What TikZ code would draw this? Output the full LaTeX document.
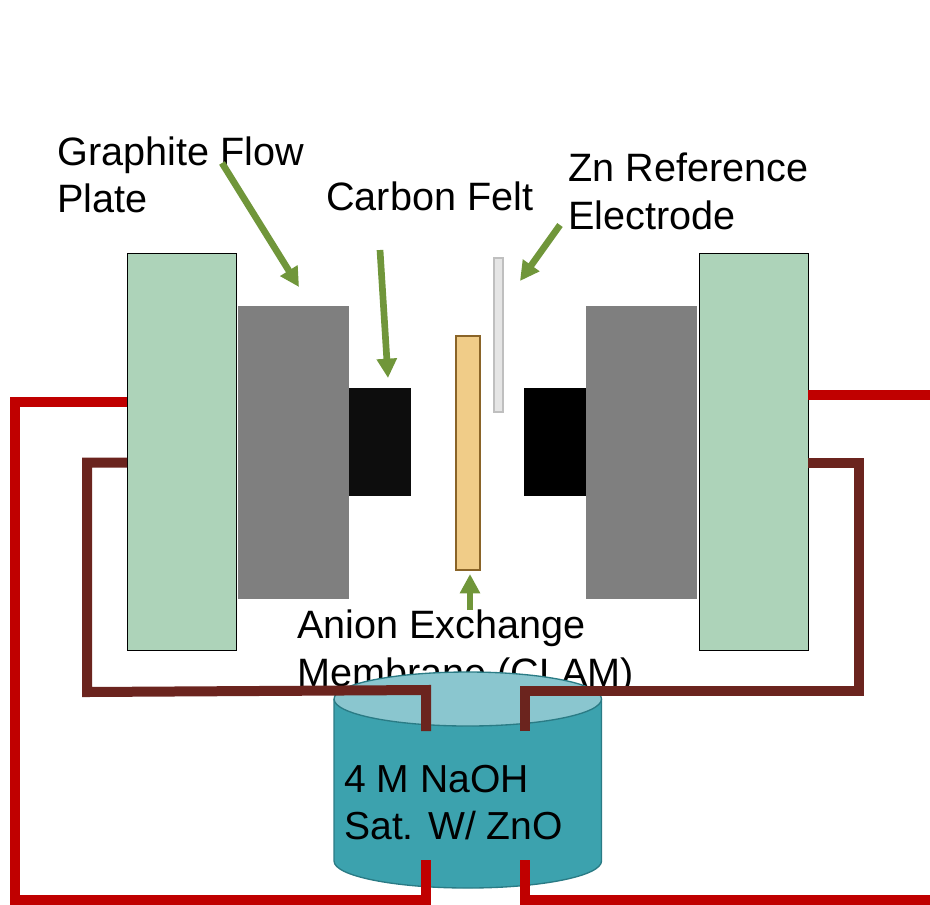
\documentclass[tikz,border=0pt]{standalone}
\usepackage{fontspec}
\setmainfont{Liberation Sans}
\usetikzlibrary{arrows.meta}
\definecolor{PlateClr}{RGB}{173,211,185}
\definecolor{GraphiteClr}{RGB}{127,127,127}
\definecolor{MembraneClr}{RGB}{240,204,136}
\definecolor{MembraneEdge}{RGB}{138,100,40}
\definecolor{RefClr}{RGB}{229,229,229}
\definecolor{RefEdge}{RGB}{191,191,191}
\definecolor{TankClr}{RGB}{60,162,174}
\definecolor{TankEdge}{RGB}{42,123,133}
\definecolor{TankTop}{RGB}{138,198,207}
\definecolor{ArrowClr}{RGB}{112,150,58}
\definecolor{RedClr}{RGB}{192,0,0}
\definecolor{BrownClr}{RGB}{107,36,30}
\tikzset{
  block/.style={inner sep=0pt,outer sep=0pt},
  plate/.style={block,draw=black,line width=.75pt,fill=PlateClr,minimum width=82pt,minimum height=298pt},
  graphite/.style={block,fill=GraphiteClr,minimum width=83.5pt,minimum height=220pt},
  felt/.style={block,minimum width=46.5pt,minimum height=81pt},
  label/.style={inner sep=0pt,anchor=base west,align=left,font=\fontsize{29.7}{35.6}\selectfont},
  tanklabel/.style={label,font=\fontsize{29.3}{35.6}\selectfont},
  pointer/.style={draw=ArrowClr,line width=5pt,-{Triangle[length=14.5pt,width=14.5pt]}},
  redwire/.style={draw=RedClr,line width=7.5pt},
  brownwire/.style={draw=BrownClr,line width=7.5pt}
}

\begin{document}
\begin{tikzpicture}[x=.75pt,y=-.75pt]
\useasboundingbox (0,0) rectangle (930,904);

% cell
\node[graphite] (graphiteL) at (293.2,452.5) {};
\node[graphite] (graphiteR) at (641.2,452.5) {};
\node[felt,fill=black!95] (feltL) at (379.7,442) {};
\node[felt,fill=black] (feltR) at (555,442) {};
\node[block,draw=MembraneEdge,line width=1.5pt,fill=MembraneClr,minimum width=18pt,minimum height=176pt] (membrane) at (467.7,453) {};
\node[block,draw=RefEdge,line width=1.5pt,fill=RefClr,minimum width=6.5pt,minimum height=115.5pt] (refelec) at (498.2,335) {};
\node[plate] (plateL) at (181.8,452) {};
\node[plate] (plateR) at (753.8,452) {};

% labels
\node[label] (lblplate) at (57,165) {Graphite Flow};
\node[label] at (57,212) {Plate};
\node[label] (lblfelt) at (326,210) {Carbon Felt};
\node[label] (lblref) at (568,181) {Zn Reference};
\node[label] at (568,229) {Electrode};
\node[label] (lblmem) at (297,638) {Anion Exchange};
\node[label] at (297,686) {Membrane (CLAM)};

% tank
\coordinate (tankL) at (334,699);
\coordinate (tankR) at (601.5,699);
\draw[TankEdge,line width=1pt,fill=TankClr] (tankL) -- (334,861) arc[start angle=180,end angle=360,x radius=133.75,y radius=-27] -- (tankR);
\draw[TankEdge,line width=1pt,fill=TankTop] (467.75,699) ellipse[x radius=133.75,y radius=27];
\node[tanklabel] (lbltank) at (344,792) {4 M NaOH};
\node[tanklabel] at (344,839) {Sat. W/ ZnO};

% pointers
\coordinate (pA) at (222,163);
\coordinate (pAend) at (299,287);
\coordinate (pB) at (380,250);
\coordinate (pBend) at (388,378);
\coordinate (pC) at (560,225);
\coordinate (pCend) at (520,281);
\coordinate (pD) at (470,610);
\coordinate (pDend) at (470,574);
\draw[pointer] (pA) -- (pAend);
\draw[pointer] (pB) -- (pBend);
\draw[pointer] (pC) -- (pCend);
\draw[pointer] (pD) -- (pDend);

% tubing
\coordinate (brownA) at (87,462.7);
\coordinate (brownB) at (87,692);
\coordinate (brownC) at (426,690);
\coordinate (brownD) at (426,731);
\coordinate (brownE) at (525,731);
\coordinate (brownF) at (525,691);
\coordinate (brownG) at (858.5,691);
\coordinate (brownH) at (858.5,462.7);
\coordinate (redA) at (14.8,401.7);
\coordinate (redB) at (14.8,900);
\coordinate (redC) at (426,900);
\coordinate (redD) at (426,860);
\coordinate (redE) at (525,860);
\coordinate (redF) at (525,900);
\coordinate (redG) at (930,900);
\coordinate (redH) at (930,394.5);
\draw[brownwire] (plateL.west |- brownA) -- (brownA) -- (brownB) -- (brownC) -- (brownD);
\draw[brownwire] (brownE) -- (brownF) -- (brownG) -- (brownH) -- (plateR.east |- brownH);
\draw[redwire] (plateL.west |- redA) -- (redA) -- (redB) -- (redC) -- (redD);
\draw[redwire] (redE) -- (redF) -- (redG);
\draw[redwire] (plateR.east |- redH) -- (redH);

\end{tikzpicture}
\end{document}
